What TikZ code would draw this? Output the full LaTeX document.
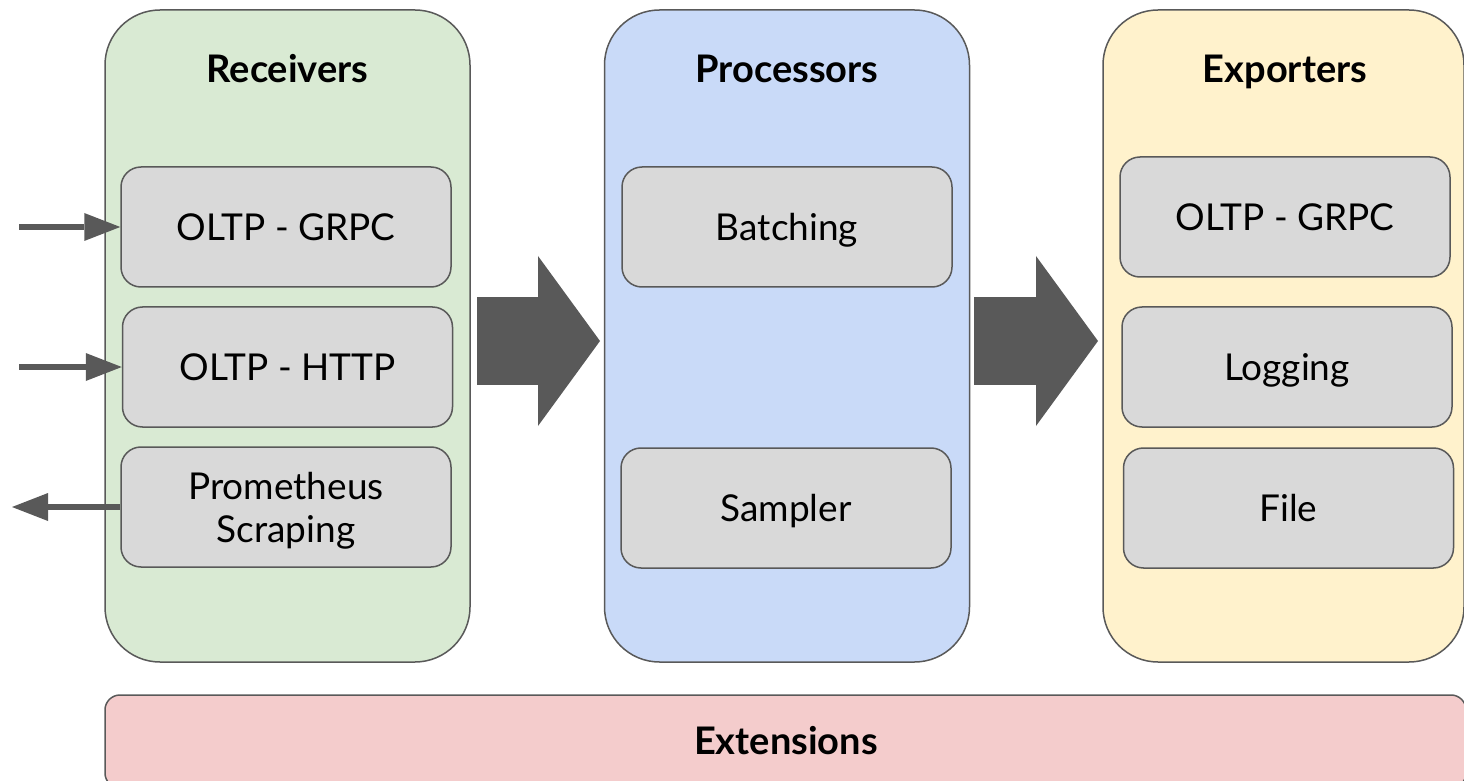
\documentclass[tikz,border=0pt]{standalone}
\usepackage{fontspec}
\setmainfont{Lato}
\usetikzlibrary{arrows.meta}
\definecolor{edgegray}{HTML}{595959}
\definecolor{boxgray}{HTML}{D9D9D9}
\definecolor{recvgreen}{HTML}{D9EAD3}
\definecolor{procblue}{HTML}{C9DAF8}
\definecolor{expoyellow}{HTML}{FFF2CC}
\definecolor{extred}{HTML}{F4CCCC}
\tikzset{
  stage/.style={draw=edgegray,line width=0.75pt,rounded corners=27.5pt,
    minimum width=182.5pt,minimum height=326pt},
  plugin/.style={draw=edgegray,fill=boxgray,line width=0.75pt,rounded corners=10pt,
    minimum width=165pt,minimum height=60pt,align=center,text height=13.3pt,text depth=0pt,
    font=\fontsize{18.5}{21.5}\selectfont},
  stageTitle/.style={font=\fontsize{19}{22}\selectfont\bfseries,text height=13.7pt,text depth=0pt},
  smallArrow/.style={-{Triangle[length=18pt,width=14pt,line width=0pt]},line width=2.7pt,edgegray},
  bigArrow/.style={-{Triangle[length=31pt,width=85pt,line width=0pt]},line width=43.5pt,edgegray}
}

\begin{document}
\begin{tikzpicture}[x=0.5pt,y=-0.5pt]
  \useasboundingbox (0,0) rectangle (1464,781);
  % stages
  \node[stage,fill=recvgreen] (recv) at (287.5,336) {};
  \node[stage,fill=procblue] (proc) at (787,336) {};
  \node[stage,fill=expoyellow,minimum width=180.5pt] (expo) at (1283.5,336) {};
  \node[draw=edgegray,fill=extred,line width=0.75pt,rounded corners=7.5pt,
    minimum width=680.5pt,minimum height=46.5pt] (ext) at (785.5,741.5) {};
  \node[stageTitle] (recvT) at (287.5,69) {Receivers};
  \node[stageTitle] (procT) at (787,69) {Processors};
  \node[stageTitle] (expoT) at (1285,69) {Exporters};
  \node[stageTitle] (extT) at (786,741) {Extensions};
  % receivers
  \node[plugin] (rGrpc) at (286,227) {OLTP - GRPC};
  \node[plugin] (rHttp) at (287.5,367) {OLTP - HTTP};
  \node[plugin,text height=] (rProm) at (286,507) {Prometheus\\Scraping};
  % processors
  \node[plugin] (pBatch) at (787,227) {Batching};
  \node[plugin] (pSampler) at (786,508) {Sampler};
  % exporters
  \node[plugin] (eGrpc) at (1285,217) {OLTP - GRPC};
  \node[plugin] (eLog) at (1287,367) {Logging};
  \node[plugin] (eFile) at (1288.5,508) {File};
  % in and out
  \coordinate (in1) at (19,227);
  \coordinate (in2) at (19,367);
  \coordinate (out1) at (12,507);
  \draw[smallArrow] (in1) -- (rGrpc.west);
  \draw[smallArrow] (in2) -- (rHttp.west);
  \draw[smallArrow] (rProm.west) -- (out1);
  % flow between stages
  \coordinate (f1s) at (477,341);
  \coordinate (f1e) at (600,341);
  \coordinate (f2s) at (974,341);
  \coordinate (f2e) at (1098,341);
  \draw[bigArrow] (f1s) -- (f1e);
  \draw[bigArrow] (f2s) -- (f2e);
\end{tikzpicture}
\end{document}
